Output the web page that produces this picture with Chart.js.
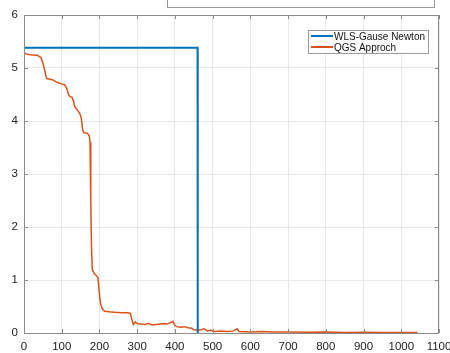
<!DOCTYPE html>
<html><head><meta charset="utf-8">
<script src="https://cdn.jsdelivr.net/npm/chart.js@4.4.1/dist/chart.umd.min.js"></script>
<style>
html,body{margin:0;padding:0;background:#fff;}
#wrap{position:relative;width:450px;height:353px;overflow:hidden;}
#topbox{position:absolute;left:167px;top:-3px;width:266px;height:9px;border:1px solid #999;background:#fff;}
</style></head>
<body><div id="wrap"><canvas id="c" width="450" height="353"></canvas><div id="topbox"></div></div>
<script>
const seriesNames = ['WLS-Gause Newton', 'QGS Approch'];
const xTicks = [0,100,200,300,400,500,600,700,800,900,1000,1100];
const yTicks = [0,1,2,3,4,5,6];
const wlsX = [0, 460, 460.5];
const wlsY = [5.38, 5.38, 0];
const qgsX = [0,3,15,35,45,50,55,60,75,90,100,108,113,118,122,127,131,134,140,148,152,155,158,168,173,175,177,179,181,186,192,196,199,203,208,214,225,240,260,275,282,286,290,295,300,310,320,330,340,350,360,370,380,390,395,400,405,415,425,435,445,450,460,470,478,485,495,505,520,540,555,565,570,600,630,660,700,750,800,850,900,950,1000,1043];
const qgsY = [5.30,5.27,5.25,5.24,5.20,5.10,4.95,4.80,4.78,4.72,4.70,4.68,4.62,4.50,4.46,4.45,4.38,4.28,4.22,4.14,4.05,3.85,3.78,3.77,3.72,3.60,2.5,1.6,1.2,1.12,1.08,1.05,0.8,0.55,0.45,0.41,0.40,0.39,0.38,0.38,0.37,0.25,0.16,0.21,0.18,0.17,0.16,0.18,0.15,0.16,0.17,0.18,0.17,0.20,0.22,0.14,0.12,0.11,0.12,0.10,0.09,0.06,0.05,0.06,0.08,0.04,0.05,0.03,0.04,0.03,0.04,0.08,0.03,0.02,0.03,0.02,0.02,0.015,0.02,0.01,0.015,0.01,0.01,0.01];
const colors = ['#0072BD', '#D95319'];
const fontFamily = '"Liberation Sans", Arial, Helvetica, sans-serif';

const toPts = (xs, ys) => xs.map((x, i) => ({x: x, y: ys[i]}));

const frame = {
  id: 'frame',
  afterDatasetsDraw(chart) {
    const {ctx, chartArea: a, scales} = chart;
    ctx.save();
    ctx.strokeStyle = '#8a8a8a';
    ctx.lineWidth = 1;
    ctx.strokeRect(a.left + 0.5, a.top + 0.5, a.right - a.left - 1, a.bottom - a.top);
    ctx.beginPath();
    xTicks.forEach(v => {
      const px = Math.round(scales.x.getPixelForValue(v)) + 0.5;
      ctx.moveTo(px, a.bottom); ctx.lineTo(px, a.bottom - 4);
      ctx.moveTo(px, a.top); ctx.lineTo(px, a.top + 4);
    });
    yTicks.forEach(v => {
      const py = Math.round(scales.y.getPixelForValue(v)) + 0.5;
      ctx.moveTo(a.left, py); ctx.lineTo(a.left + 4, py);
      ctx.moveTo(a.right, py); ctx.lineTo(a.right - 4, py);
    });
    ctx.stroke();
    // legend
    const lx = 308, ly = 30, lw = 120, lh = 23;
    ctx.fillStyle = '#fff';
    ctx.fillRect(lx, ly, lw, lh);
    ctx.strokeStyle = '#9a9a9a';
    ctx.strokeRect(lx + 0.5, ly + 0.5, lw, lh);
    ctx.textBaseline = 'middle';
    ctx.font = '11px ' + fontFamily;
    const maxW = lw - 29;
    const widest = Math.max(...seriesNames.map(n => ctx.measureText(n).width));
    const sx = Math.min(1, maxW / widest);
    seriesNames.forEach((n, i) => {
      const y = ly + 6 + i * 11;
      ctx.strokeStyle = colors[i];
      ctx.lineWidth = 2;
      ctx.beginPath(); ctx.moveTo(lx + 3, y); ctx.lineTo(lx + 25, y); ctx.stroke();
      ctx.fillStyle = '#111';
      ctx.save();
      ctx.translate(lx + 26, y + 0.5);
      ctx.scale(sx, 1);
      ctx.fillText(n, 0, 0);
      ctx.restore();
    });
    ctx.restore();
  }
};

new Chart(document.getElementById('c'), {
  type: 'line',
  data: {
    datasets: [
      {label: seriesNames[0], data: toPts(wlsX, wlsY), borderColor: colors[0], borderWidth: 2, pointRadius: 0, tension: 0, fill: false},
      {label: seriesNames[1], data: toPts(qgsX, qgsY), borderColor: colors[1], borderWidth: 1.5, pointRadius: 0, tension: 0, fill: false}
    ]
  },
  options: {
    responsive: false,
    animation: false,
    layout: {padding: {top: 15, right: 11, left: 0, bottom: 0}},
    plugins: {legend: {display: false}, tooltip: {enabled: false}},
    scales: {
      x: {
        type: 'linear', min: 0, max: 1100,
        afterBuildTicks: s => { s.ticks = xTicks.map(v => ({value: v})); },
        afterFit: s => { s.height = 20; s.paddingLeft = 0; s.paddingRight = 0; },
        grid: {color: '#e8e8e8', drawTicks: false},
        border: {display: false},
        ticks: {color: '#222', font: {size: 11.5, family: fontFamily}, padding: 7, maxRotation: 0, autoSkip: false, callback: v => String(v)}
      },
      y: {
        min: 0, max: 6,
        afterBuildTicks: s => { s.ticks = yTicks.map(v => ({value: v})); },
        afterFit: s => { s.width = 24; },
        grid: {color: '#e8e8e8', drawTicks: false},
        border: {display: false},
        ticks: {color: '#222', font: {size: 11.5, family: fontFamily}, padding: 6, callback: v => String(v)}
      }
    }
  },
  plugins: [frame]
});
</script></body></html>
